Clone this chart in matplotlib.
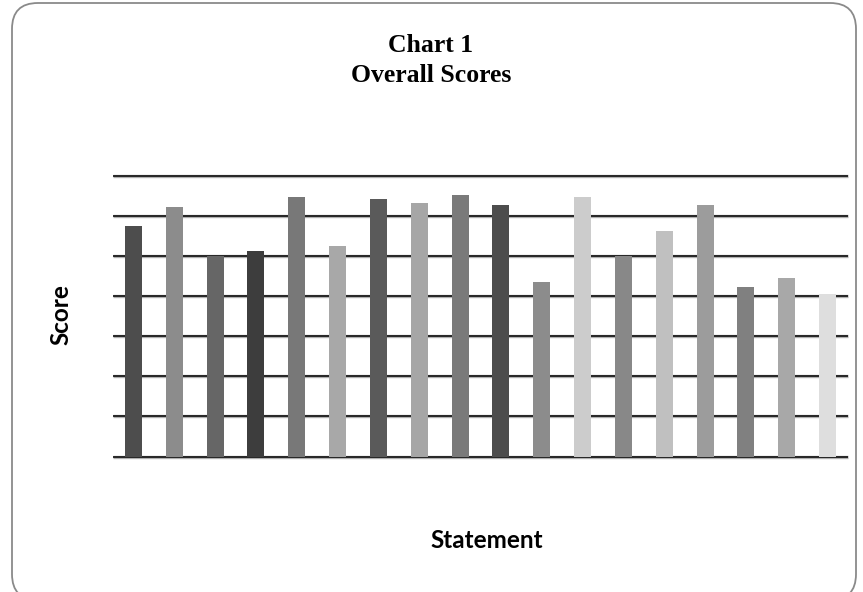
import matplotlib
matplotlib.use("Agg")
import matplotlib.pyplot as plt
from matplotlib.patches import FancyBboxPatch

statements = [f"S{i}" for i in range(1, 19)]
scores = [5.75, 6.22, 5.0, 5.12, 6.47, 5.25, 6.42, 6.32, 6.52,
          6.27, 4.35, 6.47, 5.0, 5.62, 6.27, 4.22, 4.45, 4.05]
bar_colors = ["#4d4d4d", "#8c8c8c", "#666666", "#3d3d3d", "#787878", "#a8a8a8",
              "#5a5a5a", "#a6a6a6", "#7a7a7a", "#4d4d4d", "#8c8c8c", "#cccccc",
              "#888888", "#c0c0c0", "#9c9c9c", "#808080", "#a8a8a8", "#dedede"]
grid_levels = [0, 1, 2, 3, 4, 5, 6, 7]

W, H = 863, 592
fig = plt.figure(figsize=(W / 100, H / 100), dpi=100)
fig.patch.set_facecolor("white")

# rounded frame
frame = FancyBboxPatch((12 / W, -8 / H), (856 - 12) / W, (589 + 8) / H,
                       boxstyle="round,pad=0,rounding_size=0.03",
                       transform=fig.transFigure, facecolor="none",
                       edgecolor="#8a8a8a", linewidth=1.3, mutation_aspect=W / H)
fig.patches.append(frame)

ax = fig.add_axes([113 / W, (H - 456.5) / H, (848 - 113) / W, (456.5 - 176) / H])
x = list(range(len(scores)))
ax.bar(x, scores, width=0.42, color=bar_colors, zorder=3)
for g in grid_levels:
    ax.axhline(g, color="#b0b0b0", linewidth=2.4, zorder=1, clip_on=False,
               solid_capstyle="butt")
    ax.axhline(g, color="black", linewidth=1.1, zorder=2, clip_on=False,
               solid_capstyle="butt")
ax.set_xlim(-0.5, len(scores) - 0.5)
ax.set_ylim(0, 7)
ax.set_xticks([])
ax.set_yticks([])
for s in ax.spines.values():
    s.set_visible(False)
ax.patch.set_alpha(0)

fig.text(431 / W, 1 - 45 / H, "Chart 1", ha="center", va="center",
         fontsize=18.5, fontweight="bold", family="Liberation Serif")
fig.text(431 / W, 1 - 75 / H, "Overall Scores", ha="center", va="center",
         fontsize=18.5, fontweight="bold", family="Liberation Serif")
fig.text(487 / W, 1 - 541 / H, "Statement", ha="center", va="center",
         fontsize=17.5, fontweight="bold", family="Lato")
fig.text(61 / W, 1 - 315 / H, "Score", ha="center", va="center", rotation=90,
         fontsize=17.5, fontweight="bold", family="Lato")

fig.savefig("out.png", dpi=100)
